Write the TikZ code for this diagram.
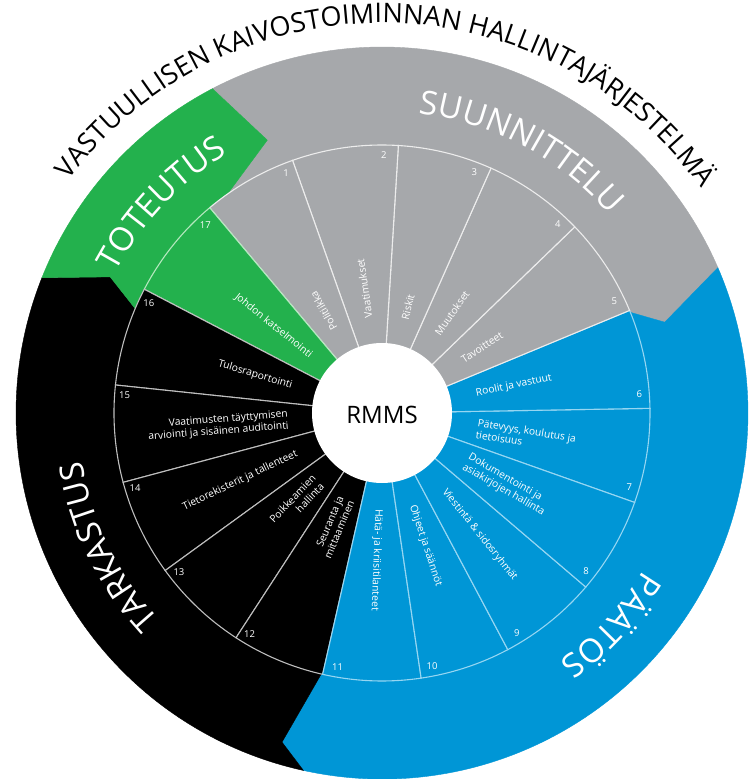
\documentclass[tikz,border=0pt]{standalone}
\usepackage{fontspec}
\setmainfont{Open Sans}
\newfontfamily\titlefont{Open Sans}
\usetikzlibrary{decorations.text}
\definecolor{cgrey}{RGB}{166,168,171}
\definecolor{cgreen}{RGB}{35,177,77}
\definecolor{cblue}{RGB}{0,150,214}
\definecolor{cblack}{RGB}{0,0,0}
\definecolor{lgrey}{RGB}{236,236,236}
\definecolor{lgreen}{RGB}{180,232,190}
\definecolor{lblue}{RGB}{150,214,242}
\definecolor{lblack}{RGB}{190,190,190}
\newcommand\ttlstyle{\titlefont\fontsize{27}{29}\selectfont}
\newcommand\catstyle{\titlefont\fontsize{33}{35}\selectfont}
\begin{document}
\begin{tikzpicture}[x=1pt,y=1pt,
  seglbl/.style={text=white, font=\fontsize{10.3}{11.8}\selectfont, inner sep=0pt},
  segnum/.style={text=white, font=\fontsize{9.5}{9.5}\selectfont, inner sep=0pt},
  wedge/.style={line width=1.1pt},
  band/.style={line width=0.4pt}]
\useasboundingbox (-382,-366) rectangle (366,413);
\fill[white] (-382,-366) rectangle (366,413);

% outer bands (chevrons)
\filldraw[band, fill=cgrey, draw=cgrey] (23.1:262) -- (17.8:297) -- (23.4:366)
  arc[start angle=23.4, end angle=117.6, radius=366] -- (112.8:296) -- (129.7:262)
  arc[start angle=129.7, end angle=23.1, radius=262] -- cycle;
\filldraw[band, fill=cblue, draw=cblue] (-102.7:262) -- (-106.9:344) -- (-102.4:366)
  arc[start angle=-102.4, end angle=23.4, radius=366] -- (17.8:297) -- (23.1:262)
  arc[start angle=23.1, end angle=-102.7, radius=262] -- cycle;
\filldraw[band, fill=cblack, draw=cblack] (157.8:262) -- (153.4:304) -- (158.3:366)
  arc[start angle=158.3, end angle=257.6, radius=366] -- (253.1:344) -- (257.3:262)
  arc[start angle=257.3, end angle=157.8, radius=262] -- cycle;
\filldraw[band, fill=cgreen, draw=cgreen] (129.7:262) -- (112.8:296) -- (117.6:366)
  arc[start angle=117.6, end angle=158.3, radius=366] -- (153.4:304) -- (157.8:262)
  arc[start angle=157.8, end angle=129.7, radius=262] -- cycle;

% wedges
\foreach \a/\b/\c/\l in {
  340.5/361/cblue/lblue, 1/22.5/cblue/lblue,
  22.5/44/cgrey/lgrey, 44/66/cgrey/lgrey, 66/86.5/cgrey/lgrey,
  86.5/109.5/cgrey/lgrey, 109.5/130/cgrey/lgrey,
  130/152.5/cgreen/lgreen,
  152.5/174/cblack/lblack, 174/195/cblack/lblack, 195/216/cblack/lblack,
  216/237/cblack/lblack, 237/257.2/cblack/lblack,
  257.2/278.4/cblue/lblue, 278.4/298/cblue/lblue, 298/319.5/cblue/lblue,
  319.5/340.5/cblue/lblue}{
  \filldraw[wedge, fill=\c, draw=\l] (\a:60) -- (\a:268)
    arc[start angle=\a, end angle=\b, radius=268] -- (\b:60) -- cycle;
}

% centre
\fill[white] (0,0) circle[radius=70];
\node[font=\fontsize{24}{24}\selectfont, text=black] (rmms) at (0,-2) {RMMS};

% segment labels, right side (reading outward)
\node[seglbl, rotate=119.75, anchor=west] (l1) at (119.75:96) {Politiikka};
\node[seglbl, rotate=98, anchor=west] (l2) at (98:96) {Vaatimukset};
\node[seglbl, rotate=76.25, anchor=west] (l3) at (76.25:96) {Riskit};
\node[seglbl, rotate=55, anchor=west] (l4) at (55:96) {Muutokset};
\node[seglbl, rotate=33.25, anchor=west] (l5) at (33.25:96) {Tavoitteet};
\node[seglbl, rotate=11.75, anchor=west] (l6) at (11.75:96) {Roolit ja vastuut};
\node[seglbl, rotate=-9.25, anchor=west, align=left] (l7) at (-9.25:96) {Pätevyys, koulutus ja\\tietoisuus};
\node[seglbl, rotate=-30, anchor=west, align=left] (l8) at (-30:97) {Dokumentointi ja\\asiakirjojen hallinta};
\node[seglbl, rotate=-51.25, anchor=west] (l9) at (-51.25:99) {Viestintä \& sidosryhmät};
\node[seglbl, rotate=-71.8, anchor=west] (l10) at (-71.8:97) {Ohjeet ja säännöt};
\node[seglbl, rotate=-92.2, anchor=west] (l11) at (-92.2:96) {Hätä- ja kriisitilanteet};
% left side (reading inward)
\node[seglbl, rotate=67.1, anchor=east, align=right] (l12) at (247.1:93) {Seuranta ja\\mittaaminen};
\node[seglbl, rotate=46.5, anchor=east, align=right] (l13) at (226.5:93) {Poikkeamien\\hallinta};
\node[seglbl, rotate=25.5, anchor=east] (l14) at (205.5:94) {Tietorekisterit ja tallenteet};
\node[seglbl, rotate=4.5, anchor=east, align=right] (l15) at (184.5:94) {Vaatimusten täyttymisen\\arviointi ja sisäinen auditointi};
\node[seglbl, rotate=-16.75, anchor=east] (l16) at (163.25:94) {Tulosraportointi};
\node[seglbl, rotate=-38.75, anchor=east] (l17) at (141.25:91) {Johdon katselmointi};

% numbers
\foreach \n/\t in {1/111.8, 2/89.6, 3/69, 4/47, 5/25.8, 6/4.3, 7/-16.6, 8/-37.7,
  9/-58.5, 10/-78.8, 11/-99.9, 12/-120.9, 13/-141.9, 14/-163.1, 15/176.1,
  16/154.7, 17/133.2}{
  \node[segnum] (n\n) at (\t:258) {\n};
}

% title
\path[decorate, decoration={text along path, text align=center,
  text={|\ttlstyle|VASTUULLISEN KAIVOSTOIMINNAN HALLINTAJÄRJESTELMÄ}}]
  (154.25:390) arc[start angle=154.25, end angle=24.25, radius=390];

% category labels
\path[decorate, decoration={text along path, text align=center, text color=white,
  text={|\catstyle|SUUNNITTELU}}]
  (112:302) arc[start angle=112, end angle=12, radius=302];
\path[decorate, decoration={text along path, text align=center, text color=white,
  text={|\catstyle|TOTEUTUS}}]
  (186.4:301) arc[start angle=186.4, end angle=86.4, radius=301];
\path[decorate, decoration={text along path, text align=center, text color=white,
  text={|\catstyle|TARKASTUS}}]
  (256:304) arc[start angle=256, end angle=156, radius=304];
\path[decorate, decoration={text along path, text align=center, text color=white,
  text={|\catstyle|PÄÄTÖS}}]
  (7.2:305) arc[start angle=7.2, end angle=-92.8, radius=305];
\end{tikzpicture}
\end{document}
